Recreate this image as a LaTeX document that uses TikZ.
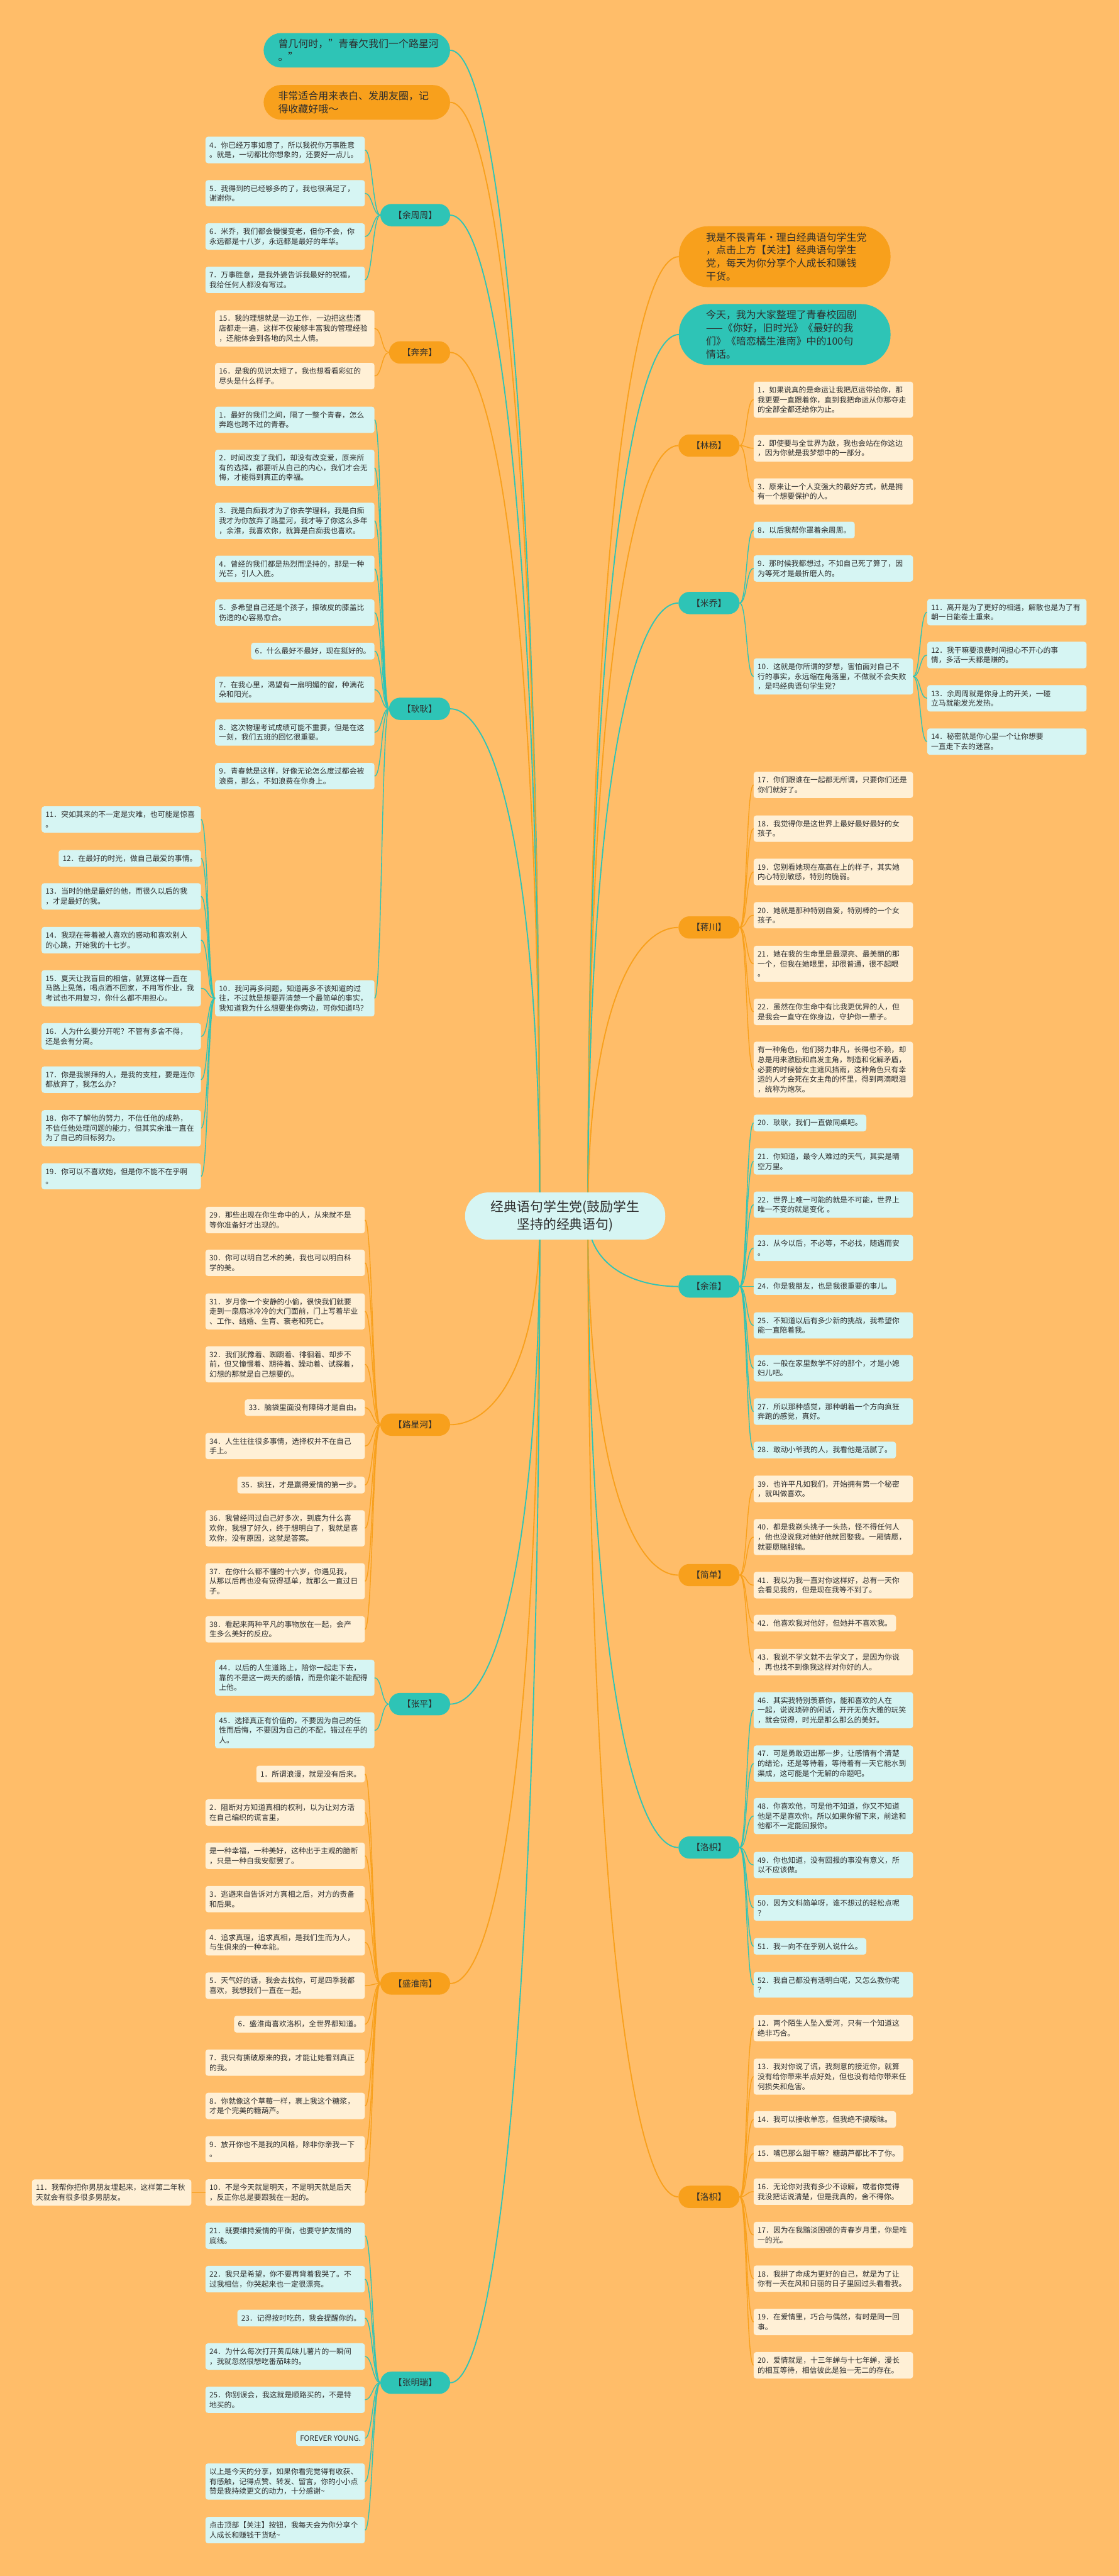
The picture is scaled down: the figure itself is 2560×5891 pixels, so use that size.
\documentclass[tikz,border=0pt]{standalone}
\usepackage{fontspec}
\setmainfont{Noto Sans CJK SC}
\usepackage{tikz}
\usetikzlibrary{calc,positioning}

\definecolor{bgc}{RGB}{255,189,105}
\definecolor{mteal}{RGB}{46,196,182}
\definecolor{morange}{RGB}{248,160,28}
\definecolor{lteal}{RGB}{214,245,243}
\definecolor{lorange}{RGB}{255,240,214}
\definecolor{ink}{RGB}{45,45,45}

\newcommand{\lffont}{\fontsize{14.5}{19.1}\selectfont}
\newcommand{\brfont}{\fontsize{17}{20}\selectfont}
\newcommand{\tpfont}{\fontsize{19.6}{25.6}\selectfont}
\newcommand{\ctfont}{\fontsize{25.6}{34}\selectfont}

\tikzstyle{mainbox} = [rectangle, rounded corners=16mm, minimum width=137.4mm, minimum height=32.4mm, fill=lteal, text=ink, font=\ctfont, align=center]
\tikzstyle{ttip} = [rectangle, rounded corners=12mm, text width=108mm, inner xsep=10mm, inner ysep=4.2mm, fill=mteal, text=ink, font=\tpfont, align=left]
\tikzstyle{otip} = [ttip, fill=morange]
\tikzstyle{tintro} = [ttip, rounded corners=20mm, inner xsep=18.6mm]
\tikzstyle{ointro} = [tintro, fill=morange]
\tikzstyle{tbranch} = [rectangle, rounded corners=7.6mm, minimum height=15.3mm, inner xsep=9mm, fill=mteal, text=ink, font=\brfont]
\tikzstyle{obranch} = [tbranch, fill=morange]
\tikzstyle{tleaf} = [rectangle, rounded corners=1.8mm, inner xsep=2.7mm, inner ysep=3.3mm, fill=lteal, text=ink, font=\lffont, align=left]
\tikzstyle{oleaf} = [tleaf, fill=lorange]
\tikzstyle{wleaf} = [text width=104mm]
\tikzstyle{tline} = [draw=mteal, line width=0.6mm]
\tikzstyle{oline} = [draw=morange, line width=0.6mm]
\tikzstyle{tmain} = [tline, line width=0.8mm]
\tikzstyle{omain} = [oline, line width=0.8mm]
\tikzstyle{toleft} = [to path={.. controls +(-17,0) and +(17,0) .. (\tikztotarget)}]
\tikzstyle{toright} = [to path={.. controls +(17,0) and +(-17,0) .. (\tikztotarget)}]
\tikzstyle{tohub} = [to path={.. controls ($(\tikztostart)!0.5!(\tikztotarget |- \tikztostart)$) and ($(\tikztotarget)!0.7!(\tikztotarget |- \tikztostart)$) .. (\tikztotarget)}]

\begin{document}
\begin{tikzpicture}[x=0.3mm, y=-0.3mm]

    \fill[bgc] (0,0) rectangle (2560,5891);
    \coordinate (hubL) at (1235,2781);
    \coordinate (hubR) at (1345,2781);

    % left side
    \node (tip1) [ttip, anchor=east] at (1030,115) {曾几何时，"青春欠我们一个路星河\\。"};
    \node (tip2) [otip, anchor=east] at (1030,234) {非常适合用来表白、发朋友圈，记\\得收藏好哦～};

    \node (yzz) [tbranch, anchor=east] at (1030,492) {【余周周】};
    \node (yzz4) [tleaf, wleaf, anchor=east] at (835,343) {4．你已经万事如意了，所以我祝你万事胜意\\。就是，一切都比你想象的，还要好一点儿。};
    \node (yzz5) [tleaf, wleaf, anchor=east] at (835,442) {5．我得到的已经够多的了，我也很满足了，\\谢谢你。};
    \node (yzz6) [tleaf, wleaf, anchor=east] at (835,541) {6．米乔，我们都会慢慢变老，但你不会，你\\永远都是十八岁，永远都是最好的年华。};
    \node (yzz7) [tleaf, wleaf, anchor=east] at (835,640) {7．万事胜意，是我外婆告诉我最好的祝福，\\我给任何人都没有写过。};

    \node (bb) [obranch, anchor=east] at (1030,806) {【奔奔】};
    \node (bb15) [oleaf, wleaf, anchor=east] at (857,751) {15．我的理想就是一边工作，一边把这些酒\\店都走一遍，这样不仅能够丰富我的管理经验\\，还能体会到各地的风土人情。};
    \node (bb16) [oleaf, wleaf, anchor=east] at (857,860) {16．是我的见识太短了，我也想看看彩虹的\\尽头是什么样子。};

    \node (gg) [tbranch, anchor=east] at (1030,1621) {【耿耿】};
    \node (gg1) [tleaf, wleaf, anchor=east] at (857,960) {1．最好的我们之间，隔了一整个青春，怎么\\奔跑也跨不过的青春。};
    \node (gg2) [tleaf, wleaf, anchor=east] at (857,1070) {2．时间改变了我们，却没有改变爱，原来所\\有的选择，都要听从自己的内心，我们才会无\\悔，才能得到真正的幸福。};
    \node (gg3) [tleaf, wleaf, anchor=east] at (857,1191) {3．我是白痴我才为了你去学理科，我是白痴\\我才为你放弃了路星河，我才等了你这么多年\\，余淮，我喜欢你，就算是白痴我也喜欢。};
    \node (gg4) [tleaf, wleaf, anchor=east] at (857,1301) {4．曾经的我们都是热烈而坚持的，那是一种\\光芒，引人入胜。};
    \node (gg5) [tleaf, wleaf, anchor=east] at (857,1401) {5．多希望自己还是个孩子，擦破皮的膝盖比\\伤透的心容易愈合。};
    \node (gg6) [tleaf, anchor=east] at (857,1489) {6．什么最好不最好，现在挺好的。};
    \node (gg7) [tleaf, wleaf, anchor=east] at (857,1577) {7．在我心里，渴望有一扇明媚的窗，种满花\\朵和阳光。};
    \node (gg8) [tleaf, wleaf, anchor=east] at (857,1675) {8．这次物理考试成绩可能不重要，但是在这\\一刻，我们五班的回忆很重要。};
    \node (gg9) [tleaf, wleaf, anchor=east] at (857,1775) {9．青春就是这样，好像无论怎么度过都会被\\浪费，那么，不如浪费在你身上。};
    \node (gg10) [tleaf, wleaf, anchor=east] at (857,2283) {10．我问再多问题，知道再多不该知道的过\\往，不过就是想要弄清楚一个最简单的事实，\\我知道我为什么想要坐你旁边，可你知道吗？};
    \node (gg11) [tleaf, wleaf, anchor=east] at (460,1874) {11．突如其来的不一定是灾难，也可能是惊喜\\。};
    \node (gg12) [tleaf, anchor=east] at (460,1963) {12．在最好的时光，做自己最爱的事情。};
    \node (gg13) [tleaf, wleaf, anchor=east] at (460,2050) {13．当时的他是最好的他，而很久以后的我\\，才是最好的我。};
    \node (gg14) [tleaf, wleaf, anchor=east] at (460,2150) {14．我现在带着被人喜欢的感动和喜欢别人\\的心跳，开始我的十七岁。};
    \node (gg15) [tleaf, wleaf, anchor=east] at (460,2260) {15．夏天让我盲目的相信，就算这样一直在\\马路上晃荡，喝点酒不回家，不用写作业，我\\考试也不用复习，你什么都不用担心。};
    \node (gg16) [tleaf, wleaf, anchor=east] at (460,2370) {16．人为什么要分开呢？不管有多舍不得，\\还是会有分离。};
    \node (gg17) [tleaf, wleaf, anchor=east] at (460,2469) {17．你是我崇拜的人，是我的支柱，要是连你\\都放弃了，我怎么办？};
    \node (gg18) [tleaf, wleaf, anchor=east] at (460,2580) {18．你不了解他的努力，不信任他的成熟，\\不信任他处理问题的能力，但其实余淮一直在\\为了自己的目标努力。};
    \node (gg19) [tleaf, wleaf, anchor=east] at (460,2690) {19．你可以不喜欢她，但是你不能不在乎啊\\。};

    \node (lxh) [obranch, anchor=east] at (1030,3258) {【路星河】};
    \node (lxh29) [oleaf, wleaf, anchor=east] at (835,2790) {29．那些出现在你生命中的人，从来就不是\\等你准备好才出现的。};
    \node (lxh30) [oleaf, wleaf, anchor=east] at (835,2888) {30．你可以明白艺术的美，我也可以明白科\\学的美。};
    \node (lxh31) [oleaf, wleaf, anchor=east] at (835,2999) {31．岁月像一个安静的小偷，很快我们就要\\走到一扇扇冰冷冷的大门面前，门上写着毕业\\、工作、结婚、生育、衰老和死亡。};
    \node (lxh32) [oleaf, wleaf, anchor=east] at (835,3120) {32．我们犹豫着、踟蹰着、徘徊着、却步不\\前，但又憧憬着、期待着、躁动着、试探着，\\幻想的那就是自己想要的。};
    \node (lxh33) [oleaf, anchor=east] at (835,3219) {33．脑袋里面没有障碍才是自由。};
    \node (lxh34) [oleaf, wleaf, anchor=east] at (835,3307) {34．人生往往很多事情，选择权并不在自己\\手上。};
    \node (lxh35) [oleaf, anchor=east] at (835,3396) {35．疯狂，才是赢得爱情的第一步。};
    \node (lxh36) [oleaf, wleaf, anchor=east] at (835,3495) {36．我曾经问过自己好多次，到底为什么喜\\欢你，我想了好久，终于想明白了，我就是喜\\欢你，没有原因，这就是答案。};
    \node (lxh37) [oleaf, wleaf, anchor=east] at (835,3616) {37．在你什么都不懂的十六岁，你遇见我，\\从那以后再也没有觉得孤单，就那么一直过日\\子。};
    \node (lxh38) [oleaf, wleaf, anchor=east] at (835,3726) {38．看起来两种平凡的事物放在一起，会产\\生多么美好的反应。};

    \node (zp) [tbranch, anchor=east] at (1030,3897) {【张平】};
    \node (zp44) [tleaf, wleaf, anchor=east] at (857,3837) {44．以后的人生道路上，陪你一起走下去，\\靠的不是这一两天的感情，而是你能不能配得\\上他。};
    \node (zp45) [tleaf, wleaf, anchor=east] at (857,3957) {45．选择真正有价值的，不要因为自己的任\\性而后悔，不要因为自己的不配，错过在乎的\\人。};

    \node (shn) [obranch, anchor=east] at (1030,4536) {【盛淮南】};
    \node (shn1) [oleaf, anchor=east] at (835,4057) {1．所谓浪漫，就是没有后来。};
    \node (shn2) [oleaf, wleaf, anchor=east] at (835,4145) {2．阻断对方知道真相的权利，以为让对方活\\在自己编织的谎言里，};
    \node (shn2b) [oleaf, wleaf, anchor=east] at (835,4244) {是一种幸福，一种美好，这种出于主观的臆断\\，只是一种自我安慰罢了。};
    \node (shn3) [oleaf, wleaf, anchor=east] at (835,4343) {3．逃避来自告诉对方真相之后，对方的责备\\和后果。};
    \node (shn4) [oleaf, wleaf, anchor=east] at (835,4442) {4．追求真理，追求真相，是我们生而为人，\\与生俱来的一种本能。};
    \node (shn5) [oleaf, wleaf, anchor=east] at (835,4541) {5．天气好的话，我会去找你，可是四季我都\\喜欢，我想我们一直在一起。};
    \node (shn6) [oleaf, anchor=east] at (835,4629) {6．盛淮南喜欢洛枳，全世界都知道。};
    \node (shn7) [oleaf, wleaf, anchor=east] at (835,4717) {7．我只有撕破原来的我，才能让她看到真正\\的我。};
    \node (shn8) [oleaf, wleaf, anchor=east] at (835,4816) {8．你就像这个草莓一样，裹上我这个糖浆，\\才是个完美的糖葫芦。};
    \node (shn9) [oleaf, wleaf, anchor=east] at (835,4915) {9．放开你也不是我的风格，除非你亲我一下\\。};
    \node (shn10) [oleaf, wleaf, anchor=east] at (835,5014) {10．不是今天就是明天，不是明天就是后天\\，反正你总是要跟我在一起的。};
    \node (shn11) [oleaf, wleaf, anchor=east] at (438,5014) {11．我帮你把你男朋友埋起来，这样第二年秋\\天就会有很多很多男朋友。};

    \node (zmr) [tbranch, anchor=east] at (1030,5449) {【张明瑞】};
    \node (zmr21) [tleaf, wleaf, anchor=east] at (835,5113) {21．既要维持爱情的平衡，也要守护友情的\\底线。};
    \node (zmr22) [tleaf, wleaf, anchor=east] at (835,5212) {22．我只是希望，你不要再背着我哭了。不\\过我相信，你哭起来也一定很漂亮。};
    \node (zmr23) [tleaf, anchor=east] at (835,5301) {23．记得按时吃药，我会提醒你的。};
    \node (zmr24) [tleaf, wleaf, anchor=east] at (835,5389) {24．为什么每次打开黄瓜味儿薯片的一瞬间\\，我就忽然很想吃番茄味的。};
    \node (zmr25) [tleaf, wleaf, anchor=east] at (835,5488) {25．你别误会，我这就是顺路买的，不是特\\地买的。};
    \node (zmrFy) [tleaf, anchor=east] at (835,5576) {FOREVER YOUNG.};
    \node (zmrSh) [tleaf, wleaf, anchor=east] at (835,5675) {以上是今天的分享，如果你看完觉得有收获、\\有感触，记得点赞、转发、留言，你的小小点\\赞是我持续更文的动力，十分感谢\textasciitilde};
    \node (zmrGz) [tleaf, wleaf, anchor=east] at (835,5786) {点击顶部【关注】按钮，我每天会为你分享个\\人成长和赚钱干货哒\textasciitilde};

    % right side
    \node (intro1) [ointro, anchor=west] at (1553,587) {我是不畏青年·理白经典语句学生党\\，点击上方【关注】经典语句学生\\党，每天为你分享个人成长和赚钱\\干货。};
    \node (intro2) [tintro, anchor=west] at (1553,765) {今天，我为大家整理了青春校园剧\\——《你好，旧时光》《最好的我\\们》《暗恋橘生淮南》中的100句\\情话。};

    \node (ly) [obranch, anchor=west] at (1552,1019) {【林杨】};
    \node (ly1) [oleaf, wleaf, anchor=west] at (1724,914) {1．如果说真的是命运让我把厄运带给你，那\\我更要一直跟着你，直到我把命运从你那夺走\\的全部全都还给你为止。};
    \node (ly2) [oleaf, wleaf, anchor=west] at (1724,1025) {2．即使要与全世界为敌，我也会站在你这边\\，因为你就是我梦想中的一部分。};
    \node (ly3) [oleaf, wleaf, anchor=west] at (1724,1124) {3．原来让一个人变强大的最好方式，就是拥\\有一个想要保护的人。};

    \node (mq) [tbranch, anchor=west] at (1552,1379) {【米乔】};
    \node (mq8) [tleaf, anchor=west] at (1724,1212) {8．以后我帮你罩着余周周。};
    \node (mq9) [tleaf, wleaf, anchor=west] at (1724,1300) {9．那时候我都想过，不如自己死了算了，因\\为等死才是最折磨人的。};
    \node (mq10) [tleaf, wleaf, anchor=west] at (1724,1547) {10．这就是你所谓的梦想，害怕面对自己不\\行的事实，永远缩在角落里，不做就不会失败\\，是吗经典语句学生党？};
    \node (mq11) [tleaf, wleaf, anchor=west] at (2121,1400) {11．离开是为了更好的相遇，解散也是为了有\\朝一日能卷土重来。};
    \node (mq12) [tleaf, wleaf, anchor=west] at (2121,1498) {12．我干嘛要浪费时间担心不开心的事\\情，多活一天都是赚的。};
    \node (mq13) [tleaf, wleaf, anchor=west] at (2121,1597) {13．余周周就是你身上的开关，一碰\\立马就能发光发热。};
    \node (mq14) [tleaf, wleaf, anchor=west] at (2121,1696) {14．秘密就是你心里一个让你想要\\一直走下去的迷宫。};

    \node (jc) [obranch, anchor=west] at (1552,2121) {【蒋川】};
    \node (jc17) [oleaf, wleaf, anchor=west] at (1724,1795) {17．你们跟谁在一起都无所谓，只要你们还是\\你们就好了。};
    \node (jc18) [oleaf, wleaf, anchor=west] at (1724,1895) {18．我觉得你是这世界上最好最好最好的女\\孩子。};
    \node (jc19) [oleaf, wleaf, anchor=west] at (1724,1994) {19．您别看她现在高高在上的样子，其实她\\内心特别敏感，特别的脆弱。};
    \node (jc20) [oleaf, wleaf, anchor=west] at (1724,2093) {20．她就是那种特别自爱，特别棒的一个女\\孩子。};
    \node (jc21) [oleaf, wleaf, anchor=west] at (1724,2204) {21．她在我的生命里是最漂亮、最美丽的那\\一个，但我在她眼里，却很普通，很不起眼\\。};
    \node (jc22) [oleaf, wleaf, anchor=west] at (1724,2314) {22．虽然在你生命中有比我更优异的人，但\\是我会一直守在你身边，守护你一辈子。};
    \node (jcPh) [oleaf, wleaf, anchor=west] at (1724,2446) {有一种角色，他们努力非凡，长得也不赖，却\\总是用来激励和启发主角，制造和化解矛盾，\\必要的时候替女主遮风挡雨，这种角色只有幸\\运的人才会死在女主角的怀里，得到两滴眼泪\\，统称为炮灰。};

    \node (yh) [tbranch, anchor=west] at (1552,2942) {【余淮】};
    \node (yh20) [tleaf, anchor=west] at (1724,2568) {20．耿耿，我们一直做同桌吧。};
    \node (yh21) [tleaf, wleaf, anchor=west] at (1724,2656) {21．你知道，最令人难过的天气，其实是晴\\空万里。};
    \node (yh22) [tleaf, wleaf, anchor=west] at (1724,2755) {22．世界上唯一可能的就是不可能，世界上\\唯一不变的就是变化 。};
    \node (yh23) [tleaf, wleaf, anchor=west] at (1724,2854) {23．从今以后，不必等，不必找，随遇而安\\。};
    \node (yh24) [tleaf, anchor=west] at (1724,2942) {24．你是我朋友，也是我很重要的事儿。};
    \node (yh25) [tleaf, wleaf, anchor=west] at (1724,3031) {25．不知道以后有多少新的挑战，我希望你\\能一直陪着我。};
    \node (yh26) [tleaf, wleaf, anchor=west] at (1724,3129) {26．一般在家里数学不好的那个，才是小媳\\妇儿吧。};
    \node (yh27) [tleaf, wleaf, anchor=west] at (1724,3228) {27．所以那种感觉，那种朝着一个方向疯狂\\奔跑的感觉，真好。};
    \node (yh28) [tleaf, anchor=west] at (1724,3316) {28．敢动小爷我的人，我看他是活腻了。};

    \node (jd) [obranch, anchor=west] at (1552,3602) {【简单】};
    \node (jd39) [oleaf, wleaf, anchor=west] at (1724,3405) {39．也许平凡如我们，开始拥有第一个秘密\\，就叫做喜欢。};
    \node (jd40) [oleaf, wleaf, anchor=west] at (1724,3515) {40．都是我剃头挑子一头热，怪不得任何人\\，他也没说我对他好他就回娶我。一厢情愿，\\就要愿赌服输。};
    \node (jd41) [oleaf, wleaf, anchor=west] at (1724,3625) {41．我以为我一直对你这样好，总有一天你\\会看见我的，但是现在我等不到了。};
    \node (jd42) [oleaf, anchor=west] at (1724,3712) {42．他喜欢我对他好，但她并不喜欢我。};
    \node (jd43) [oleaf, wleaf, anchor=west] at (1724,3801) {43．我说不学文就不去学文了，是因为你说\\，再也找不到像我这样对你好的人。};

    \node (lz) [tbranch, anchor=west] at (1552,4225) {【洛枳】};
    \node (lz46) [tleaf, wleaf, anchor=west] at (1724,3911) {46．其实我特别羡慕你，能和喜欢的人在\\一起，说说琐碎的闲话，开开无伤大雅的玩笑\\，就会觉得，时光是那么那么的美好。};
    \node (lz47) [tleaf, wleaf, anchor=west] at (1724,4033) {47．可是勇敢迈出那一步，让感情有个清楚\\的结论，还是等待着，等待着有一天它能水到\\渠成，这可能是个无解的命题吧。};
    \node (lz48) [tleaf, wleaf, anchor=west] at (1724,4153) {48．你喜欢他，可是他不知道，你又不知道\\他是不是喜欢你。所以如果你留下来，前途和\\他都不一定能回报你。};
    \node (lz49) [tleaf, wleaf, anchor=west] at (1724,4265) {49．你也知道，没有回报的事没有意义，所\\以不应该做。};
    \node (lz50) [tleaf, wleaf, anchor=west] at (1724,4363) {50．因为文科简单呀，谁不想过的轻松点呢\\？};
    \node (lz51) [tleaf, anchor=west] at (1724,4451) {51．我一向不在乎别人说什么。};
    \node (lz52) [tleaf, wleaf, anchor=west] at (1724,4539) {52．我自己都没有活明白呢，又怎么教你呢\\？};

    \node (lzb) [obranch, anchor=west] at (1552,5024) {【洛枳】};
    \node (lzb12) [oleaf, wleaf, anchor=west] at (1724,4638) {12．两个陌生人坠入爱河，只有一个知道这\\绝非巧合。};
    \node (lzb13) [oleaf, wleaf, anchor=west] at (1724,4749) {13．我对你说了谎，我刻意的接近你，就算\\没有给你带来半点好处，但也没有给你带来任\\何损失和危害。};
    \node (lzb14) [oleaf, anchor=west] at (1724,4847) {14．我可以接收单恋，但我绝不搞暧昧。};
    \node (lzb15) [oleaf, anchor=west] at (1724,4925) {15．嘴巴那么甜干嘛？糖葫芦都比不了你。};
    \node (lzb16) [oleaf, wleaf, anchor=west] at (1724,5012) {16．无论你对我有多少不谅解，或者你觉得\\我没把话说清楚，但是我真的，舍不得你。};
    \node (lzb17) [oleaf, wleaf, anchor=west] at (1724,5111) {17．因为在我黯淡困顿的青春岁月里，你是唯\\一的光。};
    \node (lzb18) [oleaf, wleaf, anchor=west] at (1724,5211) {18．我拼了命成为更好的自己，就是为了让\\你有一天在风和日丽的日子里回过头看看我。};
    \node (lzb19) [oleaf, wleaf, anchor=west] at (1724,5310) {19．在爱情里，巧合与偶然，有时是同一回\\事。};
    \node (lzb20) [oleaf, wleaf, anchor=west] at (1724,5409) {20．爱情就是，十三年蝉与十七年蝉，漫长\\的相互等待，相信彼此是独一无二的存在。};

    % main branches
    \draw [tmain, tohub] (tip1.east) to (hubL);
    \draw [omain, tohub] (tip2.east) to (hubL);
    \draw [tmain, tohub] (yzz.east) to (hubL);
    \draw [omain, tohub] (bb.east) to (hubL);
    \draw [tmain, tohub] (gg.east) to (hubL);
    \draw [omain, tohub] (lxh.east) to (hubL);
    \draw [tmain, tohub] (zp.east) to (hubL);
    \draw [omain, tohub] (shn.east) to (hubL);
    \draw [tmain, tohub] (zmr.east) to (hubL);
    \draw [omain, tohub] (intro1.west) to (hubR);
    \draw [tmain, tohub] (intro2.west) to (hubR);
    \draw [omain, tohub] (ly.west) to (hubR);
    \draw [tmain, tohub] (mq.west) to (hubR);
    \draw [omain, tohub] (jc.west) to (hubR);
    \draw [tmain, tohub] (yh.west) to (hubR);
    \draw [omain, tohub] (jd.west) to (hubR);
    \draw [tmain, tohub] (lz.west) to (hubR);
    \draw [omain, tohub] (lzb.west) to (hubR);

    % leaves, left
    \draw [tline, toleft] (yzz.west) to (yzz4.east);
    \draw [tline, toleft] (yzz.west) to (yzz5.east);
    \draw [tline, toleft] (yzz.west) to (yzz6.east);
    \draw [tline, toleft] (yzz.west) to (yzz7.east);
    \draw [oline, toleft] (bb.west) to (bb15.east);
    \draw [oline, toleft] (bb.west) to (bb16.east);
    \draw [tline, toleft] (gg.west) to (gg1.east);
    \draw [tline, toleft] (gg.west) to (gg2.east);
    \draw [tline, toleft] (gg.west) to (gg3.east);
    \draw [tline, toleft] (gg.west) to (gg4.east);
    \draw [tline, toleft] (gg.west) to (gg5.east);
    \draw [tline, toleft] (gg.west) to (gg6.east);
    \draw [tline, toleft] (gg.west) to (gg7.east);
    \draw [tline, toleft] (gg.west) to (gg8.east);
    \draw [tline, toleft] (gg.west) to (gg9.east);
    \draw [tline, toleft] (gg.west) to (gg10.east);
    \draw [tline, toleft] (gg10.west) to (gg11.east);
    \draw [tline, toleft] (gg10.west) to (gg12.east);
    \draw [tline, toleft] (gg10.west) to (gg13.east);
    \draw [tline, toleft] (gg10.west) to (gg14.east);
    \draw [tline, toleft] (gg10.west) to (gg15.east);
    \draw [tline, toleft] (gg10.west) to (gg16.east);
    \draw [tline, toleft] (gg10.west) to (gg17.east);
    \draw [tline, toleft] (gg10.west) to (gg18.east);
    \draw [tline, toleft] (gg10.west) to (gg19.east);
    \draw [oline, toleft] (lxh.west) to (lxh29.east);
    \draw [oline, toleft] (lxh.west) to (lxh30.east);
    \draw [oline, toleft] (lxh.west) to (lxh31.east);
    \draw [oline, toleft] (lxh.west) to (lxh32.east);
    \draw [oline, toleft] (lxh.west) to (lxh33.east);
    \draw [oline, toleft] (lxh.west) to (lxh34.east);
    \draw [oline, toleft] (lxh.west) to (lxh35.east);
    \draw [oline, toleft] (lxh.west) to (lxh36.east);
    \draw [oline, toleft] (lxh.west) to (lxh37.east);
    \draw [oline, toleft] (lxh.west) to (lxh38.east);
    \draw [tline, toleft] (zp.west) to (zp44.east);
    \draw [tline, toleft] (zp.west) to (zp45.east);
    \draw [oline, toleft] (shn.west) to (shn1.east);
    \draw [oline, toleft] (shn.west) to (shn2.east);
    \draw [oline, toleft] (shn.west) to (shn2b.east);
    \draw [oline, toleft] (shn.west) to (shn3.east);
    \draw [oline, toleft] (shn.west) to (shn4.east);
    \draw [oline, toleft] (shn.west) to (shn5.east);
    \draw [oline, toleft] (shn.west) to (shn6.east);
    \draw [oline, toleft] (shn.west) to (shn7.east);
    \draw [oline, toleft] (shn.west) to (shn8.east);
    \draw [oline, toleft] (shn.west) to (shn9.east);
    \draw [oline, toleft] (shn.west) to (shn10.east);
    \draw [oline, toleft] (shn10.west) to (shn11.east);
    \draw [tline, toleft] (zmr.west) to (zmr21.east);
    \draw [tline, toleft] (zmr.west) to (zmr22.east);
    \draw [tline, toleft] (zmr.west) to (zmr23.east);
    \draw [tline, toleft] (zmr.west) to (zmr24.east);
    \draw [tline, toleft] (zmr.west) to (zmr25.east);
    \draw [tline, toleft] (zmr.west) to (zmrFy.east);
    \draw [tline, toleft] (zmr.west) to (zmrSh.east);
    \draw [tline, toleft] (zmr.west) to (zmrGz.east);

    % leaves, right
    \draw [oline, toright] (ly.east) to (ly1.west);
    \draw [oline, toright] (ly.east) to (ly2.west);
    \draw [oline, toright] (ly.east) to (ly3.west);
    \draw [tline, toright] (mq.east) to (mq8.west);
    \draw [tline, toright] (mq.east) to (mq9.west);
    \draw [tline, toright] (mq.east) to (mq10.west);
    \draw [tline, toright] (mq10.east) to (mq11.west);
    \draw [tline, toright] (mq10.east) to (mq12.west);
    \draw [tline, toright] (mq10.east) to (mq13.west);
    \draw [tline, toright] (mq10.east) to (mq14.west);
    \draw [oline, toright] (jc.east) to (jc17.west);
    \draw [oline, toright] (jc.east) to (jc18.west);
    \draw [oline, toright] (jc.east) to (jc19.west);
    \draw [oline, toright] (jc.east) to (jc20.west);
    \draw [oline, toright] (jc.east) to (jc21.west);
    \draw [oline, toright] (jc.east) to (jc22.west);
    \draw [oline, toright] (jc.east) to (jcPh.west);
    \draw [tline, toright] (yh.east) to (yh20.west);
    \draw [tline, toright] (yh.east) to (yh21.west);
    \draw [tline, toright] (yh.east) to (yh22.west);
    \draw [tline, toright] (yh.east) to (yh23.west);
    \draw [tline, toright] (yh.east) to (yh24.west);
    \draw [tline, toright] (yh.east) to (yh25.west);
    \draw [tline, toright] (yh.east) to (yh26.west);
    \draw [tline, toright] (yh.east) to (yh27.west);
    \draw [tline, toright] (yh.east) to (yh28.west);
    \draw [oline, toright] (jd.east) to (jd39.west);
    \draw [oline, toright] (jd.east) to (jd40.west);
    \draw [oline, toright] (jd.east) to (jd41.west);
    \draw [oline, toright] (jd.east) to (jd42.west);
    \draw [oline, toright] (jd.east) to (jd43.west);
    \draw [tline, toright] (lz.east) to (lz46.west);
    \draw [tline, toright] (lz.east) to (lz47.west);
    \draw [tline, toright] (lz.east) to (lz48.west);
    \draw [tline, toright] (lz.east) to (lz49.west);
    \draw [tline, toright] (lz.east) to (lz50.west);
    \draw [tline, toright] (lz.east) to (lz51.west);
    \draw [tline, toright] (lz.east) to (lz52.west);
    \draw [oline, toright] (lzb.east) to (lzb12.west);
    \draw [oline, toright] (lzb.east) to (lzb13.west);
    \draw [oline, toright] (lzb.east) to (lzb14.west);
    \draw [oline, toright] (lzb.east) to (lzb15.west);
    \draw [oline, toright] (lzb.east) to (lzb16.west);
    \draw [oline, toright] (lzb.east) to (lzb17.west);
    \draw [oline, toright] (lzb.east) to (lzb18.west);
    \draw [oline, toright] (lzb.east) to (lzb19.west);
    \draw [oline, toright] (lzb.east) to (lzb20.west);

    % centre last, so it covers the hubs
    \node (root) [mainbox] at (1293,2781) {经典语句学生党(鼓励学生\\坚持的经典语句)};

\end{tikzpicture}
\end{document}
